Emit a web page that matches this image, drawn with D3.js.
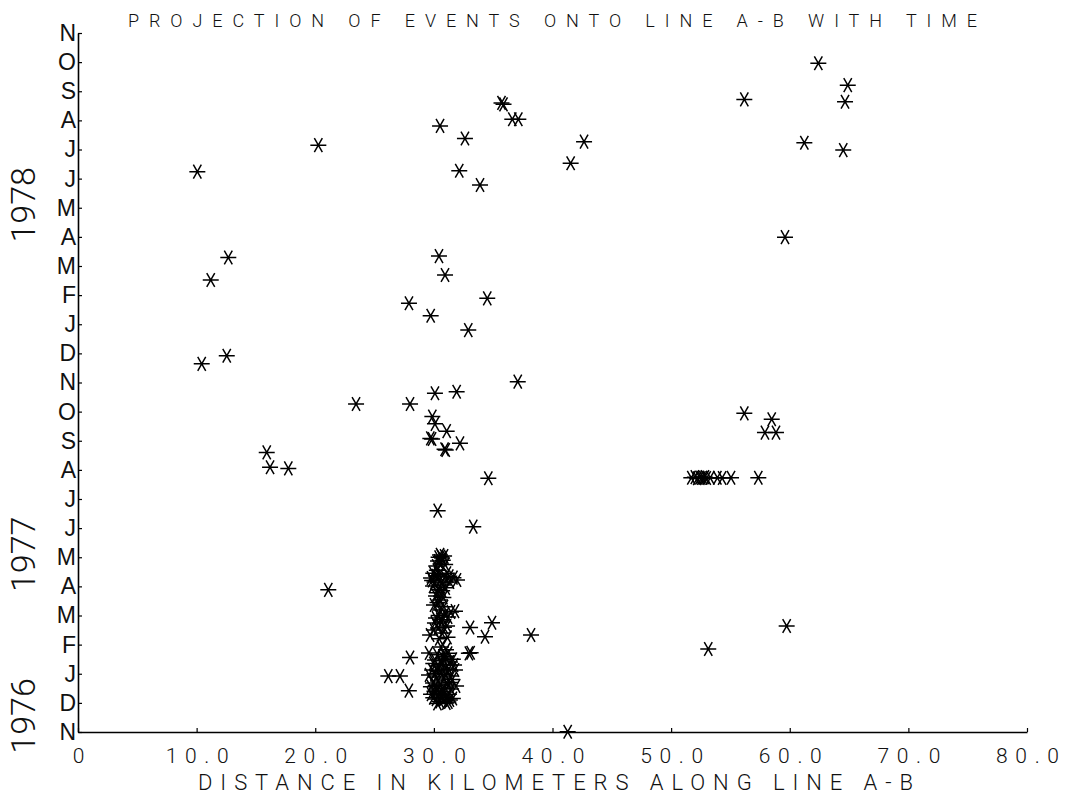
<!DOCTYPE html>
<html>
<head>
<meta charset="utf-8">
<script src="https://cdn.jsdelivr.net/npm/d3@7"></script>
<style>
  html, body { margin: 0; padding: 0; background: #ffffff; }
  svg { display: block; }
</style>
</head>
<body>
<svg id="chart" width="1079" height="795"></svg>
<script>
// Month initials on the time axis, Nov 1976 .. Nov 1978 (one per month)
const monthLabels = ["N","D","J","F","M","A","M","J","J","A","S","O",
                     "N","D","J","F","M","A","M","J","J","A","S","O","N"];
const yearLabels = ["1976", "1977", "1978"];
const distanceTicks = [0, 10, 20, 30, 40, 50, 60, 70, 80];

// Events: [distance along A-B (km), months since 1 Nov 1976]
const westEvents = [
  [10.06, 19.24], [12.67, 16.29], [11.19, 15.52], [12.54, 12.92], [10.43, 12.64],
  [15.91, 9.60], [16.19, 9.09], [17.73, 9.05], [20.26, 20.15], [21.10, 4.88],
  [23.44, 11.26]
];

const centralEvents = [
  [35.70, 21.60], [35.87, 21.55], [36.61, 21.04], [37.12, 21.04], [30.52, 20.81],
  [32.62, 20.38], [42.66, 20.27], [41.53, 19.53], [32.14, 19.27], [33.89, 18.78],
  [30.43, 16.34], [30.94, 15.69], [27.90, 14.72], [34.50, 14.89], [29.73, 14.29],
  [32.90, 13.80], [37.07, 12.03], [30.09, 11.63], [31.92, 11.68], [27.99, 11.26],
  [29.87, 10.83], [30.09, 10.58], [31.08, 10.33], [29.70, 10.08], [29.85, 10.06],
  [32.20, 9.91], [30.90, 9.71], [31.00, 9.68], [34.59, 8.71], [30.32, 7.60],
  [33.32, 7.05], [33.05, 3.59], [34.90, 3.75], [34.31, 3.27], [38.19, 3.33],
  [32.95, 2.70], [33.10, 2.72], [27.99, 2.56], [26.16, 1.92], [27.14, 1.92],
  [27.89, 1.42], [41.28, 0.01], [31.22, 1.03]
];

// The dense swarm near 30 km, Dec 1976 - Apr 1977
const swarmEvents = [
  [30.52, 6.08], [30.69, 5.97], [30.35, 5.87], [30.60, 5.77], [30.86, 6.04],
  [29.76, 5.29], [30.18, 5.36], [30.52, 5.22], [30.94, 5.32], [31.36, 5.15],
  [31.95, 5.22], [29.93, 5.01], [30.35, 4.88], [30.77, 5.05], [30.18, 4.67],
  [30.52, 4.53], [30.01, 4.36], [30.52, 4.19], [30.94, 4.05], [31.44, 4.12],
  [31.78, 4.15], [30.18, 3.91], [30.69, 3.78], [30.09, 3.74], [31.11, 3.64],
  [30.35, 3.57], [29.68, 3.33], [30.69, 3.40], [30.60, 2.92], [31.02, 2.82],
  [29.59, 2.71], [30.09, 2.47], [30.77, 2.54], [31.36, 2.40], [30.35, 2.27],
  [31.02, 2.20], [29.85, 2.13], [30.60, 2.06], [31.78, 2.13], [29.59, 1.96],
  [30.18, 1.89], [30.86, 1.82], [31.36, 1.92], [29.93, 1.68], [30.52, 1.61],
  [31.11, 1.65], [31.87, 1.58], [30.26, 1.44], [30.86, 1.37], [29.76, 1.30],
  [30.60, 1.24], [31.27, 1.30], [30.18, 1.13], [30.77, 1.10],
  [30.40, 6.00], [30.75, 5.90], [30.20, 5.70], [30.95, 5.75], [29.95, 5.45],
  [30.45, 5.40], [31.10, 5.45], [31.65, 5.30], [30.05, 5.15], [30.65, 5.12],
  [31.00, 4.95], [30.30, 4.78], [30.80, 4.62],
  [30.30, 4.45], [30.85, 4.30], [30.40, 4.00], [31.20, 3.95], [30.55, 3.85],
  [30.85, 3.60], [30.00, 3.50], [30.45, 3.20], [31.15, 3.25],
  [30.30, 2.65], [30.95, 2.60], [31.60, 2.50], [29.95, 2.35], [30.65, 2.32],
  [31.25, 2.15], [30.05, 2.00], [30.95, 1.98], [31.55, 1.80], [30.35, 1.75],
  [29.75, 1.55], [30.75, 1.50], [31.45, 1.48], [30.05, 1.40], [30.45, 1.32],
  [31.05, 1.20], [29.95, 1.18], [30.50, 1.05], [31.05, 1.00], [31.60, 1.15],
  [30.30, 0.98],
  [30.60, 6.02], [30.25, 5.55], [31.30, 5.35], [29.85, 5.20], [30.70, 4.85],
  [31.20, 2.70], [30.55, 2.45], [31.70, 2.30], [30.25, 2.10], [31.40, 1.70],
  [30.65, 1.40], [30.15, 1.60], [31.35, 1.10]
];

const eastEvents = [
  [62.41, 22.96], [64.89, 22.21], [64.66, 21.64], [56.17, 21.72], [61.23, 20.23],
  [64.51, 19.98], [59.60, 16.99], [56.17, 10.94], [58.48, 10.74], [57.91, 10.28],
  [58.84, 10.28], [57.35, 8.73],
  [51.70, 8.73], [52.00, 8.75], [52.20, 8.71], [52.40, 8.74], [52.55, 8.72],
  [52.70, 8.73], [52.85, 8.75], [53.00, 8.72], [53.30, 8.73], [53.90, 8.73],
  [54.30, 8.72], [55.05, 8.73],
  [53.13, 2.85], [59.74, 3.64]
];

const events = [...westEvents, ...centralEvents, ...swarmEvents, ...eastEvents];

const svg = d3.select("#chart");
const x = d3.scaleLinear().domain([0, 80]).range([78, 1027]);
const y = d3.scaleLinear().domain([0, 24]).range([732, 33]);

const thinFont = "Roboto, 'DejaVu Sans', sans-serif";

// Title
svg.append("text")
  .attr("x", 128).attr("y", 27)
  .attr("textLength", 849).attr("lengthAdjust", "spacing")
  .style("font-family", thinFont).style("font-weight", 300)
  .style("font-size", "18px").style("fill", "#111")
  .text("PROJECTION OF EVENTS ONTO LINE A-B WITH TIME");

// Distance axis
const xAxis = svg.append("g")
  .attr("transform", `translate(0,${y(0)})`)
  .call(d3.axisBottom(x)
    .tickValues(distanceTicks)
    .tickSizeInner(-4).tickSizeOuter(0)
    .tickPadding(16)
    .tickFormat(d => d === 0 ? "0" : d.toFixed(1)));
xAxis.select(".domain").attr("stroke", "#000").attr("stroke-width", 1.6);
xAxis.selectAll(".tick line").attr("stroke", "#000").attr("stroke-width", 1.2);
xAxis.selectAll(".tick text")
  .style("font-family", thinFont).style("font-weight", 300)
  .style("font-size", "21px").style("fill", "#111")
  .each(function(d) { if (d !== 0) d3.select(this).attr("textLength", 63).attr("lengthAdjust", "spacing"); });

// Time axis
const yAxis = svg.append("g")
  .attr("transform", `translate(${x(0)},0)`)
  .call(d3.axisLeft(y)
    .tickValues(d3.range(monthLabels.length))
    .tickSizeInner(-4).tickSizeOuter(0)
    .tickPadding(2)
    .tickFormat(i => monthLabels[i]));
yAxis.select(".domain").attr("stroke", "#000").attr("stroke-width", 1.6);
yAxis.selectAll(".tick line").attr("stroke", "#000").attr("stroke-width", 1.2);
yAxis.selectAll(".tick text")
  .style("font-family", "'Liberation Sans', Arial, sans-serif")
  .style("font-size", "23px")
  .style("fill", "#111");

// Year labels down the left margin
const yearAt = [0.55, 6.1, 18.1];
svg.selectAll("text.year")
  .data(yearLabels)
  .enter().append("text")
  .attr("class", "year")
  .attr("transform", (d, i) => `translate(35,${y(yearAt[i])}) rotate(-90)`)
  .attr("text-anchor", "middle")
  .style("font-family", thinFont)
  .style("font-weight", 300)
  .style("font-size", "34px")
  .style("fill", "#111")
  .text(d => d);

// Axis title
svg.append("text")
  .attr("x", 198).attr("y", 790)
  .attr("textLength", 715).attr("lengthAdjust", "spacing")
  .style("font-family", thinFont).style("font-weight", 300)
  .style("font-size", "22px").style("fill", "#111")
  .text("DISTANCE IN KILOMETERS ALONG LINE A-B");

// Six-armed asterisk: one horizontal stroke and two at +/-60 degrees
const asterisk = {
  draw(context, size) {
    const r = Math.sqrt(size) / 2;
    for (let k = 0; k < 3; k++) {
      const a = k * Math.PI / 3;
      const dx = r * Math.cos(a), dy = r * Math.sin(a);
      context.moveTo(-dx, -dy);
      context.lineTo(dx, dy);
    }
  }
};
const marker = d3.symbol().type(asterisk).size(256);

svg.append("g")
  .selectAll("path")
  .data(events)
  .enter().append("path")
  .attr("d", marker)
  .attr("transform", d => `translate(${x(d[0])},${y(d[1])})`)
  .attr("fill", "none")
  .attr("stroke", "#000")
  .attr("stroke-width", 1.5);
</script>
</body>
</html>
